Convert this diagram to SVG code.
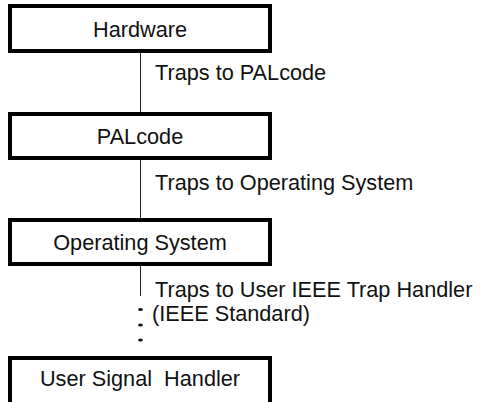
<svg xmlns="http://www.w3.org/2000/svg" width="489" height="402" viewBox="0 0 489 402">
<style>
.box{fill:#fff;stroke:#000;stroke-width:4}
.bt{font-family:"Liberation Sans",Arial,sans-serif;font-size:21.7px;fill:#111;text-anchor:middle}
.lt{font-family:"Liberation Sans",Arial,sans-serif;font-size:21.7px;fill:#111}
.ln{stroke:#222;stroke-width:1;fill:none}
</style>
<rect width="489" height="402" fill="#fff"/>
<g id="connectors">
<line class="ln" x1="140.5" y1="53" x2="140.5" y2="112"/>
<line class="ln" x1="140.5" y1="160" x2="140.5" y2="218"/>
<line class="ln" x1="140.5" y1="266" x2="140.5" y2="296"/>
<ellipse cx="140.5" cy="309.5" rx="2.4" ry="1.5" fill="#111"/>
<ellipse cx="140.5" cy="325" rx="2.4" ry="1.5" fill="#111"/>
<ellipse cx="140.5" cy="340" rx="2.4" ry="1.5" fill="#111"/>
<text class="lt" x="155" y="80">Traps to PALcode</text>
<text class="lt" x="155" y="190">Traps to Operating System</text>
<text class="lt" x="155" y="297">Traps to User IEEE Trap Handler</text>
<text class="lt" x="152" y="321">(IEEE Standard)</text>
</g>
<g id="hardware">
<rect class="box" x="10" y="6" width="260" height="45"/>
<text class="bt" x="140" y="36.5">Hardware</text>
</g>
<g id="palcode">
<rect class="box" x="10" y="114" width="260" height="44"/>
<text class="bt" x="140" y="144">PALcode</text>
</g>
<g id="os">
<rect class="box" x="10" y="220" width="260" height="44"/>
<text class="bt" x="140" y="250">Operating System</text>
</g>
<g id="user-signal-handler">
<rect class="box" x="10" y="358" width="260" height="46"/>
<text class="bt" x="140" y="386" xml:space="preserve">User Signal  Handler</text>
</g>
</svg>
